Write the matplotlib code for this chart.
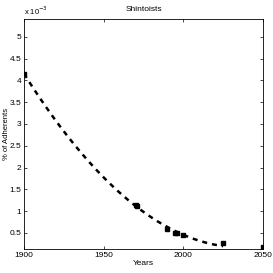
import numpy as np
import matplotlib.pyplot as plt

plt.rcParams['font.family'] = ['Liberation Sans', 'DejaVu Sans']

years = [1900, 1970, 1971, 1990, 1995, 1996, 2000, 2025, 2050]
adherents = [4.15e-3, 1.15e-3, 1.12e-3, 0.6e-3, 0.5e-3, 0.49e-3, 0.45e-3, 0.27e-3, 0.18e-3]

# quadratic trend through the observations
coef = np.polyfit(years, adherents, 2)
xs = np.linspace(1900, 2025, 200)
ys = np.polyval(coef, xs)

fig = plt.figure(figsize=(2.73, 2.73), dpi=100)
ax = fig.add_axes([24/273, 24/273, 239/273, 230/273])

ax.plot(xs, ys, 'k--', linewidth=1.8, dashes=(2, 2))
ax.plot(years, adherents, 'ks', markersize=2.8)

ax.set_xlim(1900, 2050)
ax.set_ylim(0.13e-3, 5.41e-3)
ax.set_xticks([1900, 1950, 2000, 2050])
ax.set_yticks(np.arange(0.5, 5.01, 0.5) * 1e-3)
ax.set_yticklabels(['0.5', '1', '1.5', '2', '2.5', '3', '3.5', '4', '4.5', '5'])
ax.tick_params(direction='in', top=True, right=True, labelsize=6, length=2, width=0.5, pad=2)
for s in ax.spines.values():
    s.set_linewidth(0.6)
ax.text(0, 1.01, r'x 10$^{-3}$', transform=ax.transAxes, fontsize=5.5, va='bottom')
ax.set_title('Shintoists', fontsize=6, pad=6)
ax.set_xlabel('Years', fontsize=6, labelpad=1)
ax.set_ylabel('% of Adherents', fontsize=5.5)
ax.yaxis.set_label_coords(-0.058, 0.5)

fig.savefig('out.png', dpi=100)
